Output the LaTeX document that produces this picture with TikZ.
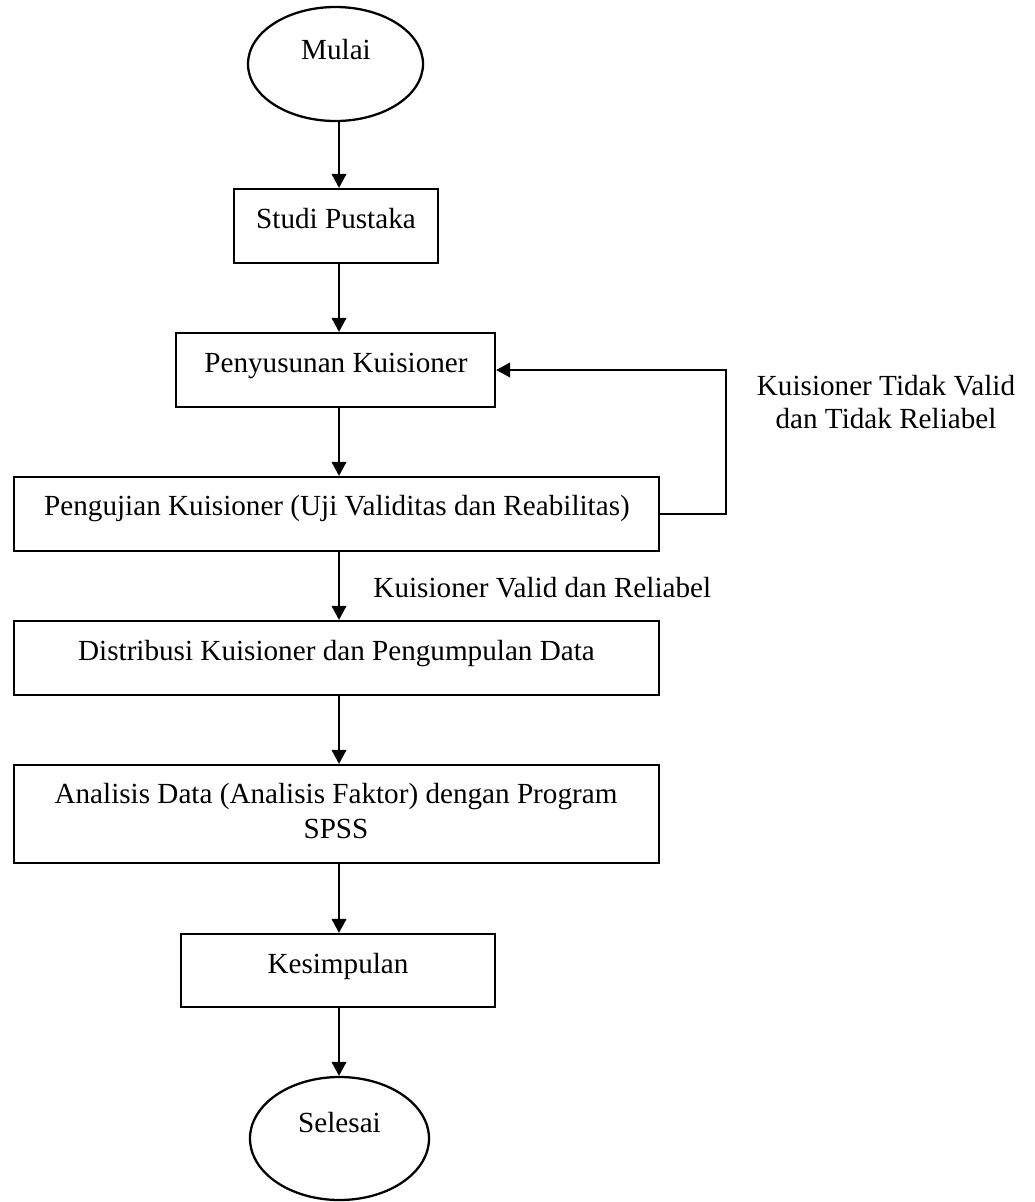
\documentclass[tikz,border=0pt]{standalone}
\usepackage{fontspec}
\setmainfont{Liberation Serif}
\usetikzlibrary{arrows.meta,shapes.geometric}
\def\px{0.41667pt}
\begin{document}
\begin{tikzpicture}[x=0.41667pt,y=-0.41667pt,
  box/.style={draw, line width=0.95pt, rectangle, inner sep=0pt},
  oval/.style={draw, line width=0.95pt, ellipse, inner sep=0pt},
  txt/.style={inner sep=0pt, font=\fontsize{12.15}{14}\selectfont},
  arr/.style={line width=0.95pt, -{Triangle[length=5.8pt,width=6pt]}}]
\useasboundingbox (0,0) rectangle (1035,1202);
\fill[white] (0,0) rectangle (1035,1202);
\coordinate (ax) at (339,0);
% shapes
\node[oval, minimum width=175*\px, minimum height=114*\px] (mulai) at (335.5,64) {};
\node[box, minimum width=204*\px, minimum height=74*\px] (studi) at (336,226) {};
\node[box, minimum width=319*\px, minimum height=74*\px] (peny) at (335.5,370) {};
\node[box, minimum width=645*\px, minimum height=74*\px] (uji) at (336.5,514) {};
\node[box, minimum width=645*\px, minimum height=74*\px] (dist) at (336.5,658) {};
\node[box, minimum width=645*\px, minimum height=98*\px] (anal) at (336.5,814) {};
\node[box, minimum width=314*\px, minimum height=73*\px] (kesim) at (338,970.5) {};
\node[oval, minimum width=179*\px, minimum height=123*\px] (selesai) at (339.5,1138.5) {};
% texts
\node[txt, anchor=base] (tmulai) at (336,59) {Mulai};
\node[txt, anchor=base] (tstudi) at (336,228) {Studi Pustaka};
\node[txt, anchor=base] (tpeny) at (336,372) {Penyusunan Kuisioner};
\node[txt, anchor=base] (tuji) at (337,515) {Pengujian Kuisioner (Uji Validitas dan Reabilitas)};
\node[txt, anchor=base] (tdist) at (336.5,660) {Distribusi Kuisioner dan Pengumpulan Data};
\node[txt, anchor=base, align=center, font=\fontsize{12.15}{14.5}\selectfont] (tanal) at (336,838) {Analisis Data (Analisis Faktor) dengan Program\\SPSS};
\node[txt, anchor=base] (tkesim) at (338,973) {Kesimpulan};
\node[txt, anchor=base] (tselesai) at (339.5,1132) {Selesai};
% connectors
\draw[arr] (mulai.south -| ax) -- (studi.north -| ax);
\draw[arr] (studi.south -| ax) -- (peny.north -| ax);
\draw[arr] (peny.south -| ax) -- (uji.north -| ax);
\draw[arr] (uji.south -| ax) -- (dist.north -| ax);
\draw[arr] (dist.south -| ax) -- (anal.north -| ax);
\draw[arr] (anal.south -| ax) -- (kesim.north -| ax);
\draw[arr] (kesim.south -| ax) -- (selesai.north -| ax);
\draw[arr] (uji.east) -- ++(66,0) |- (peny.east);
% labels
\node[txt, anchor=base, align=center, font=\fontsize{12.15}{13.75}\selectfont] (lbltidak) at (886,428) {Kuisioner Tidak Valid\\dan Tidak Reliabel};
\node[txt, anchor=base west] (lblvalid) at (373,597) {Kuisioner Valid dan Reliabel};
\end{tikzpicture}
\end{document}
